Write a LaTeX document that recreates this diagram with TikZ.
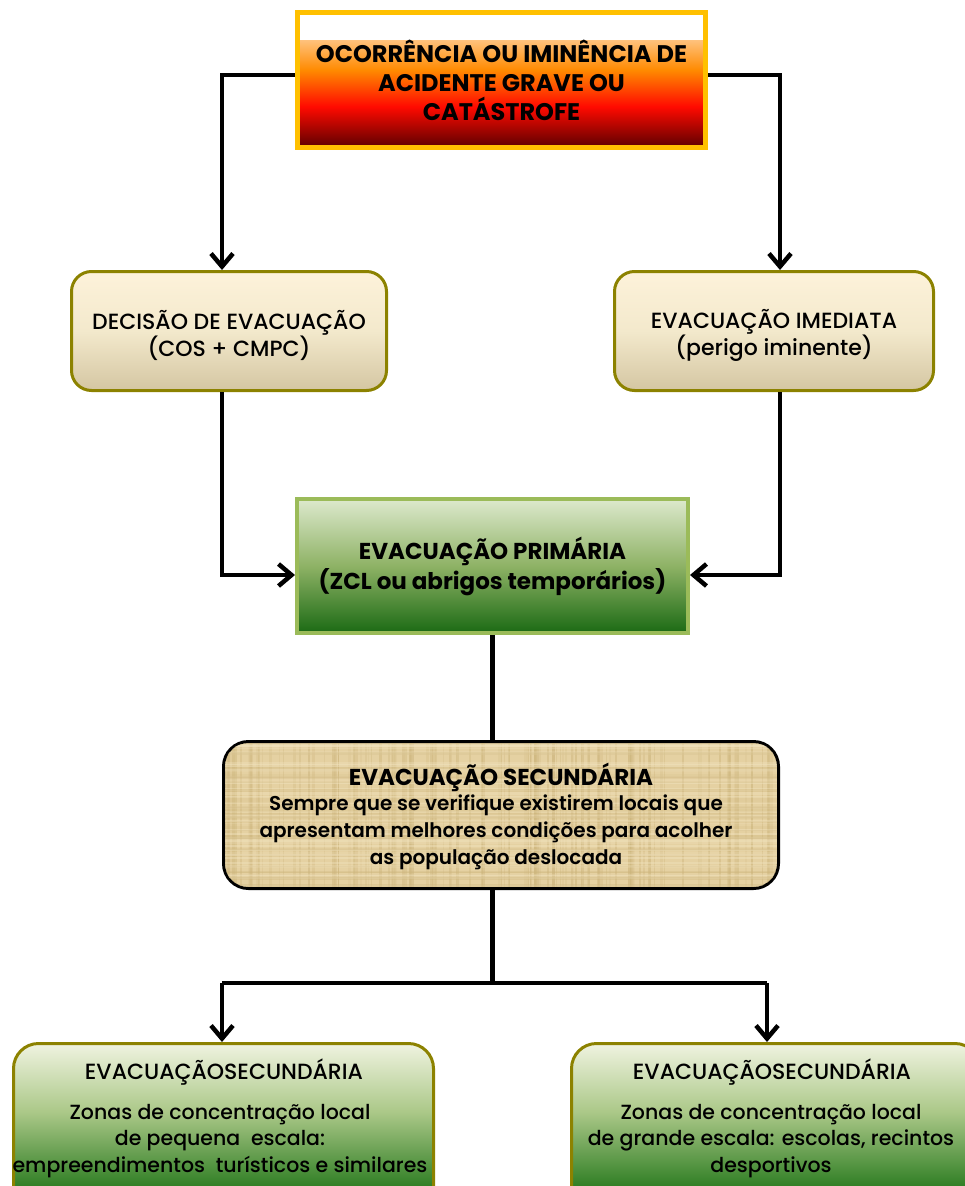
\documentclass[tikz,border=0pt]{standalone}
\usepackage{fontspec}
\setmainfont{Poppins}
\IfFontExistsTF{Poppins Medium}{\newfontfamily\medf{Poppins Medium}}{\newfontfamily\medf{Poppins}}
\IfFontExistsTF{Poppins SemiBold}{\newfontfamily\semif{Poppins SemiBold}}{\newfontfamily\semif[FakeBold=0]{Poppins Bold}}
\usetikzlibrary{arrows.meta,calc}
\definecolor{gold}{HTML}{FFC000}
\definecolor{olivebd}{HTML}{8C8200}
\definecolor{primbd}{HTML}{9BBB59}
\definecolor{fL}{HTML}{FFC27C}
\definecolor{fO}{HTML}{FF8A00}
\definecolor{fR}{HTML}{FF0A00}
\definecolor{fD}{HTML}{5C0000}
\definecolor{creamT}{HTML}{FDF2DA}
\definecolor{creamM}{HTML}{F3E9CC}
\definecolor{creamB}{HTML}{D4C6A2}
\definecolor{pgT}{HTML}{DDE9CD}
\definecolor{pgM}{HTML}{8EB265}
\definecolor{pgB}{HTML}{1B6A14}
\definecolor{bgT}{HTML}{EFF3E0}
\definecolor{bgM}{HTML}{ABC888}
\definecolor{bgL}{HTML}{2E7D23}
\definecolor{bgB}{HTML}{1E6A15}
\definecolor{papyrus}{HTML}{E5D1A2}
\definecolor{papD}{HTML}{CDB57C}
\definecolor{papL}{HTML}{F2E4C0}
\pgfdeclareverticalshading{fire}{100bp}{color(0bp)=(fD); color(25bp)=(fD); color(44bp)=(fR); color(61bp)=(fO); color(75bp)=(fL); color(100bp)=(fL)}
\pgfdeclareverticalshading{bgreen}{100bp}{color(0bp)=(bgB); color(25bp)=(bgB); color(37bp)=(bgL); color(57bp)=(bgM); color(75bp)=(bgT); color(100bp)=(bgT)}
\tikzset{
  conn/.style={line width=4.5pt, line join=miter},
  arr/.style={conn, -{Straight Barb[length=13pt,width=22pt]}},
  creambox/.style={draw=olivebd, line width=3pt, rounded corners=20pt,
    top color=creamT, bottom color=creamB, middle color=creamM, align=center,
    font=\fontsize{22}{27}\medf},
  greenbox/.style={draw=olivebd, line width=3pt, rounded corners=25pt,
    shading=bgreen},
  ttl/.style={align=center, inner sep=0pt},
}
\begin{document}
\begin{tikzpicture}[x=1pt,y=-1pt]
\useasboundingbox (0,0) rectangle (965,1186);
\clip (0,0) rectangle (965,1186);
% top box
\shade[shading=fire] (300,40) rectangle (703,147.5);
\node[draw=gold, line width=5pt, minimum width=408pt, minimum height=135pt,
  align=center, font=\fontsize{24}{29}\selectfont\bfseries] (top) at (501.5,80)
  {OCORRÊNCIA OU IMINÊNCIA DE\\ACIDENTE GRAVE OU\\CATÁSTROFE};
% decision boxes
\node[creambox, minimum width=315pt, minimum height=119pt] (dec) at (229,331) {};
\node[ttl, font=\fontsize{22}{27}\medf] (decT) at (229,335) {DECISÃO DE EVACUAÇÃO\\(COS + CMPC)};
\node[creambox, minimum width=319pt, minimum height=119pt] (imm) at (774,331) {};
\node[ttl, font=\fontsize{22}{27}\medf] (immT) at (774,335) {EVACUAÇÃO IMEDIATA\\(perigo iminente)};
% primary
\node[draw=primbd, line width=4pt, minimum width=391pt, minimum height=134pt,
  top color=pgT, bottom color=pgB, middle color=pgM, align=center,
  font=\fontsize{23}{30}\selectfont\bfseries] (prim) at (492.5,566)
  {EVACUAÇÃO PRIMÁRIA\\(ZCL ou abrigos temporários)};
% secondary
\node[draw=black, line width=3pt, rounded corners=25pt, fill=papyrus,
  minimum width=555pt, minimum height=147pt] (sec) at (501,815) {};
\begin{scope}
  \clip[rounded corners=23pt] (225,743) rectangle (777,887);
  \pgfmathsetseed{11}
  \foreach \i in {1,...,140}{
    \pgfmathsetmacro\xx{225+552*rnd}
    \pgfmathsetmacro\ww{0.8+2.5*rnd}
    \pgfmathsetmacro\oo{0.15+0.35*rnd}
    \draw[papD, line width=\ww pt, opacity=\oo] (\xx,743) -- (\xx,887);
  }
  \foreach \i in {1,...,60}{
    \pgfmathsetmacro\yy{743+144*rnd}
    \pgfmathsetmacro\ww{0.8+2*rnd}
    \pgfmathsetmacro\oo{0.15+0.3*rnd}
    \draw[papL, line width=\ww pt, opacity=\oo] (225,\yy) -- (777,\yy);
  }
  \foreach \i in {1,...,40}{
    \pgfmathsetmacro\yy{743+144*rnd}
    \pgfmathsetmacro\ww{0.8+2*rnd}
    \pgfmathsetmacro\oo{0.1+0.25*rnd}
    \draw[papD, line width=\ww pt, opacity=\oo] (225,\yy) -- (777,\yy);
  }
\end{scope}
\node[ttl, font=\fontsize{23}{28}\selectfont\bfseries] (secT) at (501,777) {EVACUAÇÃO SECUNDÁRIA};
\node[ttl, font=\fontsize{20}{27}\semif] (secB) at (496,832)
  {Sempre que se verifique existirem locais que\\apresentam melhores condições para acolher\\as população deslocada};
% bottom boxes
\node[greenbox, minimum width=420pt, minimum height=190pt] (bl) at (223.5,1138.5) {};
\node[greenbox, minimum width=408.5pt, minimum height=190pt] (br) at (775.75,1138.5) {};
\node[ttl, font=\fontsize{22}{26}\medf] (blT) at (224,1072) {EVACUAÇÃOSECUNDÁRIA};
\node[ttl, font=\fontsize{20.5}{26.5}\medf] (blB) at (220,1141)
  {Zonas de concentração local\\de pequena\ \ escala:\\empreendimentos\ \ turísticos e similares};
\node[ttl, font=\fontsize{22}{26}\medf] (brT) at (772,1072) {EVACUAÇÃOSECUNDÁRIA};
\node[ttl, font=\fontsize{20.5}{26.5}\medf] (brB) at (771,1141)
  {Zonas de concentração local\\de grande escala: escolas, recintos\\desportivos};
% connectors
\draw[arr] ($(top.west)+(0,-5)$) -| ($(dec.north)+(-7,0)$);
\draw[arr] ($(top.east)+(0,-5)$) -| ($(imm.north)+(6,0)$);
\draw[arr] ($(dec.south)+(-7,0)$) |- ($(prim.west)+(0,9)$);
\draw[arr] ($(imm.south)+(6,0)$) |- ($(prim.east)+(0,9)$);
\draw[conn] (prim.south) -- (prim.south |- sec.north);
\coordinate (jl) at (222,983);
\coordinate (jr) at (767,983);
\draw[conn] (prim.south |- sec.south) -- (prim.south |- jl);
\draw[conn] (jl) -- (jr);
\draw[arr] (jl) -- (jl |- bl.north);
\draw[arr] (jr) -- (jr |- br.north);
\end{tikzpicture}
\end{document}
